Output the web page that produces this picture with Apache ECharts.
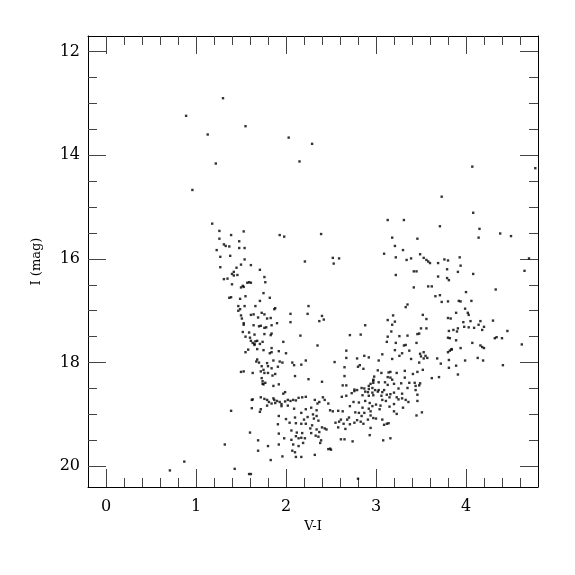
<!DOCTYPE html>
<html>
<head>
<meta charset="utf-8">
<script src="https://cdn.jsdelivr.net/npm/echarts@6/dist/echarts.min.js"></script>
<style>html,body{margin:0;padding:0;background:#fff}#c{width:575px;height:575px}</style>
</head>
<body>
<div id="c"></div>
<script>
// ---- data: [V-I, I] ----
const brightStars = [[1.30,12.90],[0.89,13.24],[1.13,13.60],[1.55,13.44],[2.03,13.66],[2.29,13.78],[1.22,14.16],[2.15,14.12],[0.96,14.67],[4.07,14.22],[4.77,14.25],[3.73,14.80],[4.08,15.11]];
const band15 = [[1.18,15.32],[3.13,15.25],[3.31,15.25],[3.71,15.37],[4.15,15.42],[1.26,15.46],[1.53,15.47],[4.38,15.51],[1.39,15.54],[1.93,15.54],[1.98,15.57],[2.39,15.52],[4.50,15.56],[4.14,15.59],[3.18,15.59],[3.46,15.61],[1.26,15.61],
[1.48,15.66],[1.31,15.72],[1.33,15.75],[3.21,15.75],[1.37,15.76],[1.54,15.79],[1.48,15.79],[1.23,15.83],[3.30,15.83],
[3.09,15.90],[1.38,15.94],[3.49,15.91],[1.27,15.96],[3.22,15.97],[1.54,16.01],[3.39,15.99],[3.34,16.02],[3.53,15.98],[3.56,16.02],[3.58,16.05],[3.60,16.08],[3.76,16.01],[3.80,16.03],[3.93,15.97],[3.69,16.08],[2.52,15.98],[2.59,15.99],[2.53,16.09],[2.21,16.05],[4.70,15.99]];
const band16 = [[3.94,16.13],[1.50,16.11],[1.61,16.12],[1.27,16.16],[1.45,16.17],[3.79,16.20],[3.42,16.24],[3.45,16.24],[3.91,16.25],[4.65,16.23],[4.08,16.29],[1.42,16.25],[1.40,16.29],[1.71,16.21],[1.31,16.39],[1.35,16.38],[3.22,16.31],[3.69,16.34],[1.76,16.35],[3.79,16.37],[3.81,16.41],
[1.42,16.32],[1.46,16.31],[1.40,16.49],[1.50,16.55],[1.57,16.46],[1.59,16.45],[1.52,16.52],[1.61,16.46],[1.77,16.45],[3.42,16.55],[3.58,16.53],[3.62,16.53],[4.33,16.59],[1.53,16.54],
[4.00,16.64],[1.75,16.66],[1.55,16.72],[3.66,16.72],[3.71,16.70],[1.37,16.75],[1.39,16.74],[1.82,16.75],[1.49,16.77],[1.71,16.81],[3.80,16.82],[3.73,16.83],[3.92,16.81],[3.94,16.82],[4.06,16.81],[3.35,16.88],[3.33,16.93],[1.47,16.91],[1.54,16.91],[1.66,16.91],[1.87,16.97],[1.88,16.95],[2.25,16.91],[3.99,16.96]];
const band17 = [[1.49,16.97],[1.47,17.00],[2.05,17.06],[2.24,17.06],[1.73,17.04],[1.61,17.08],[1.64,17.07],[1.76,17.07],[1.50,17.09],[4.02,17.04],[3.89,17.04],[4.03,17.08],[2.40,17.10],[3.52,17.08],[3.19,17.09],[1.51,17.15],[1.69,17.13],[1.79,17.15],[1.83,17.14],[3.13,17.18],[3.56,17.16],[3.80,17.14],[3.83,17.15],[2.42,17.17],[2.37,17.20],[4.30,17.19],[3.21,17.21],[2.05,17.22],[1.90,17.24],[1.53,17.24],[1.53,17.27],[4.05,17.20],[3.97,17.22],[4.16,17.20],[4.14,17.27],[3.18,17.27],
[2.88,17.28],[1.64,17.28],[1.70,17.30],[1.72,17.29],[1.78,17.32],[1.76,17.33],[1.84,17.28],[3.98,17.31],[4.03,17.32],[3.91,17.34],[4.09,17.33],[4.20,17.31],[4.18,17.37],[3.56,17.34],[3.50,17.34],[3.86,17.37],[3.81,17.39],[3.17,17.40],[3.48,17.44],[3.46,17.45],[4.46,17.39],[1.52,17.41],[1.59,17.42],[1.65,17.46],[1.76,17.45],[1.83,17.47],[1.84,17.44],[2.71,17.47],[2.83,17.46],[2.16,17.48],[3.26,17.49],[3.35,17.48],[3.90,17.40],
[1.55,17.50],[1.60,17.52],[3.13,17.50],[3.80,17.52],[3.82,17.53],[4.32,17.53],[4.34,17.51],[4.40,17.53],[3.89,17.57],[1.61,17.58],[1.63,17.62],[1.65,17.64],[1.66,17.59],[1.68,17.58],[1.65,17.66],[1.71,17.64],[3.12,17.60],[3.22,17.62],[3.45,17.62],[4.07,17.62],[1.97,17.60],[1.74,17.60],[2.35,17.67],[3.31,17.67],[3.33,17.66],[4.16,17.67],[4.18,17.70],[4.62,17.65],[3.94,17.72],[3.84,17.74],[1.84,17.72],[1.58,17.75],[1.68,17.74],[4.20,17.72],[3.21,17.76],[3.37,17.77],[2.67,17.77],
[1.55,17.80],[1.75,17.76],[1.84,17.80],[1.92,17.78],[1.82,17.82],[3.29,17.82],[3.49,17.83],[3.53,17.80],[3.82,17.77],[3.80,17.80],[3.84,17.75],[2.00,17.82],[3.07,17.84],[4.13,17.91],[3.26,17.87],[3.50,17.88],[3.53,17.92],[3.57,17.91],[3.55,17.87],[3.68,17.92],[2.67,17.91],[2.92,17.90],[2.87,17.87],[2.79,17.92],[4.19,17.96],[3.99,17.96],[3.81,17.95],[3.39,17.93],[3.18,17.93],[3.48,18.00],[3.72,18.02],[1.68,17.94],[1.70,18.00],[1.67,17.98],[1.86,17.96],[1.93,17.98],[1.96,18.00],[2.22,17.96],[2.54,17.99],[3.03,17.96],[4.41,18.05]];
const band18 = [[1.79,18.01],[1.73,18.07],[1.80,18.07],[1.91,18.08],[1.84,18.11],[1.75,18.14],[1.72,18.17],[2.07,18.00],[2.09,18.05],[2.17,18.04],[2.65,18.09],[2.82,18.05],[2.80,18.08],[2.86,18.12],[3.02,18.15],[3.89,18.06],[3.81,18.10],[3.52,18.14],[3.46,18.18],[3.41,18.22],[3.16,18.18],[3.14,18.19],[3.06,18.20],[3.23,18.20],[3.91,18.23],[3.32,18.16],[1.53,18.17],[1.50,18.18],[1.63,18.20],[1.76,18.20],[1.80,18.20],[1.88,18.22],[1.85,18.25],[3.62,18.30],[3.70,18.28],[3.32,18.29],[2.98,18.27],[3.13,18.28],[3.16,18.29],[3.18,18.33],[2.10,18.26],[2.25,18.32],[2.65,18.26],[2.97,18.33],
[1.73,18.30],[1.74,18.36],[1.77,18.39],[1.75,18.42],[1.74,18.41],[1.92,18.42],[1.86,18.45],[2.40,18.37],[2.97,18.35],[2.97,18.39],[2.94,18.41],[3.03,18.38],[3.10,18.38],[3.20,18.41],[3.28,18.40],[3.37,18.39],[3.44,18.45],[3.43,18.39],[3.49,18.40],[3.48,18.44],[3.13,18.43],[2.92,18.45],[2.63,18.44],[2.67,18.44],[2.84,18.49],[2.87,18.50],[2.92,18.51],[2.96,18.49],[2.99,18.53],[3.03,18.53],[3.09,18.53],[3.25,18.50],[3.35,18.49],[3.44,18.53],[2.76,18.52],[2.79,18.53],[1.99,18.57],[1.97,18.60],[2.73,18.59],[2.76,18.55],[2.88,18.56],[2.91,18.57],[2.96,18.58],[3.02,18.56],[3.07,18.57],[3.16,18.61],[3.20,18.58],[3.29,18.60],[3.46,18.62],
[2.85,18.63],[2.92,18.64],[2.97,18.63],[3.06,18.64],[3.12,18.62],[2.67,18.64],[2.62,18.66],[1.72,18.67],[1.76,18.70],[1.86,18.69],[1.87,18.72],[1.90,18.74],[1.62,18.72],[1.63,18.71],[1.79,18.72],[1.81,18.76],[1.84,18.79],[1.88,18.78],[1.93,18.76],[1.95,18.80],[1.99,18.75],[2.02,18.72],[2.05,18.74],[2.08,18.72],[2.11,18.73],[2.14,18.68],[2.18,18.67],[2.22,18.66],[2.32,18.72],[2.37,18.76],[2.41,18.67],[2.43,18.72],[2.35,18.79],[2.47,18.79],[3.23,18.67],[3.25,18.71],[3.29,18.69],[3.33,18.72],[3.36,18.76],[3.46,18.74],[3.07,18.72],[3.11,18.74],[3.15,18.67],[2.75,18.76],[2.81,18.77],[2.88,18.74],[2.93,18.78],[2.96,18.84],[3.00,18.81],[3.05,18.83],[3.15,18.85],[3.20,18.80],[3.30,18.87],[2.71,18.84],[2.85,18.87],[2.92,18.89],[3.04,18.90],[1.62,18.88],[1.72,18.90],[1.71,18.95],[1.79,18.83],[1.95,18.84],[2.02,18.83],[2.09,18.89],[2.22,18.90],[2.28,18.87],[2.34,18.92],[2.49,18.92],[2.52,18.94],[2.58,18.93],[2.63,18.94],[1.39,18.93],[3.20,18.94]];
const band19 = [[3.23,18.99],[3.51,18.96],[3.45,19.02],[2.77,18.96],[2.81,18.97],[2.87,18.97],[2.94,18.94],[2.84,19.03],[2.94,19.02],[2.68,19.10],[2.70,19.06],[2.97,19.07],[3.00,19.08],[2.91,19.10],[2.83,19.14],[2.86,19.18],[2.76,19.16],[2.79,19.11],[3.07,19.10],[3.12,19.18],[3.09,19.20],[3.14,19.17],[2.94,19.26],[1.92,19.03],[2.00,19.09],[2.10,19.06],[2.17,18.97],[2.20,19.10],[2.24,19.05],[2.30,19.00],[2.34,19.03],[2.31,19.08],[2.36,19.12],[2.04,19.16],[2.11,19.17],[2.17,19.18],[2.22,19.18],[2.29,19.21],[1.91,19.19],[2.55,19.16],[2.59,19.14],[2.61,19.10],[2.64,19.18],[2.71,19.19],[2.58,19.25],[2.66,19.28],[2.27,19.27],[2.40,19.25],[2.43,19.27],[2.45,19.29],[2.34,19.29],
[2.06,19.31],[2.12,19.35],[2.18,19.36],[1.92,19.37],[1.60,19.35],[2.93,19.40],[2.28,19.36],[2.37,19.34],[2.33,19.41],[2.36,19.43],[2.11,19.42],[2.14,19.46],[2.17,19.45],[2.21,19.46],[1.98,19.46],[2.06,19.49],[2.61,19.48],[2.65,19.48],[2.39,19.50],[3.16,19.46],[3.08,19.50],[1.69,19.50],[2.74,19.52],[1.32,19.58],[1.92,19.58],[1.80,19.61],[2.19,19.55],[2.08,19.58],[2.14,19.61],[2.38,19.55],[2.49,19.66],[2.50,19.68],[2.47,19.67],[1.69,19.70],[2.07,19.70],[2.10,19.73],[1.96,19.81],[2.11,19.82],[2.17,19.82],[2.32,19.78],[1.83,19.88],[0.87,19.91],[0.71,20.08],[1.43,20.05],[1.59,20.15],[1.61,20.15],[2.80,20.24]];

// ---- axes ticks / labels ----
const xMajor = [0, 1, 2, 3, 4];
const xMinor = [0.2,0.4,0.6,0.8,1.2,1.4,1.6,1.8,2.2,2.4,2.6,2.8,3.2,3.4,3.6,3.8,4.2,4.4,4.6];
const yMajor = [12, 14, 16, 18, 20];
const yMinor = [12.5,13,13.5,14.5,15,15.5,16.5,17,17.5,18.5,19,19.5];
const xRange = [-0.2, 4.8];
const yRange = [11.7, 20.4];

const allStars = [].concat(brightStars, band15, band16, band17, band18, band19);

const FONT = 'DejaVu Serif';
const tickColor = '#444';
function xAx(pos, major, labels) {
  return {
    type: 'value', position: pos, min: xRange[0], max: xRange[1],
    axisLine: { show: major, onZero: false, lineStyle: { color: '#000', width: 1 } },
    splitLine: { show: false },
    axisTick: { show: true, inside: true, length: major ? 18 : 9, customValues: major ? xMajor : xMinor, lineStyle: { color: tickColor, width: 1 } },
    axisLabel: labels ? { show: true, customValues: xMajor, fontFamily: FONT, fontSize: 16, color: '#000', margin: 12 } : { show: false },
    name: labels ? 'V-I' : '', nameLocation: 'middle', nameGap: 31,
    nameTextStyle: { fontFamily: FONT, fontSize: 13, color: '#000' }
  };
}
function yAx(pos, major, labels) {
  return {
    type: 'value', position: pos, inverse: true, min: yRange[0], max: yRange[1],
    axisLine: { show: major, onZero: false, lineStyle: { color: '#000', width: 1 } },
    splitLine: { show: false },
    axisTick: { show: true, inside: true, length: major ? 18 : 9, customValues: major ? yMajor : yMinor, lineStyle: { color: tickColor, width: 1 } },
    axisLabel: labels ? { show: true, customValues: yMajor, fontFamily: FONT, fontSize: 16, color: '#000', margin: 8 } : { show: false },
    name: labels ? 'I (mag)' : '', nameLocation: 'middle', nameGap: 45,
    nameTextStyle: { fontFamily: FONT, fontSize: 13, color: '#000' }
  };
}

const chart = echarts.init(document.getElementById('c'), null, { renderer: 'canvas' });
chart.setOption({
  animation: false,
  backgroundColor: '#fff',
  grid: { left: 88, right: 37, top: 36, bottom: 88, containLabel: false },
  xAxis: [xAx('bottom', true, true), xAx('bottom', false, false), xAx('top', true, false), xAx('top', false, false)],
  yAxis: [yAx('left', true, true), yAx('left', false, false), yAx('right', true, false), yAx('right', false, false)],
  series: [{
    type: 'scatter', xAxisIndex: 0, yAxisIndex: 0,
    symbol: 'rect', symbolSize: 2.4,
    itemStyle: { color: '#000' },
    data: allStars
  }]
});
</script>
</body>
</html>
